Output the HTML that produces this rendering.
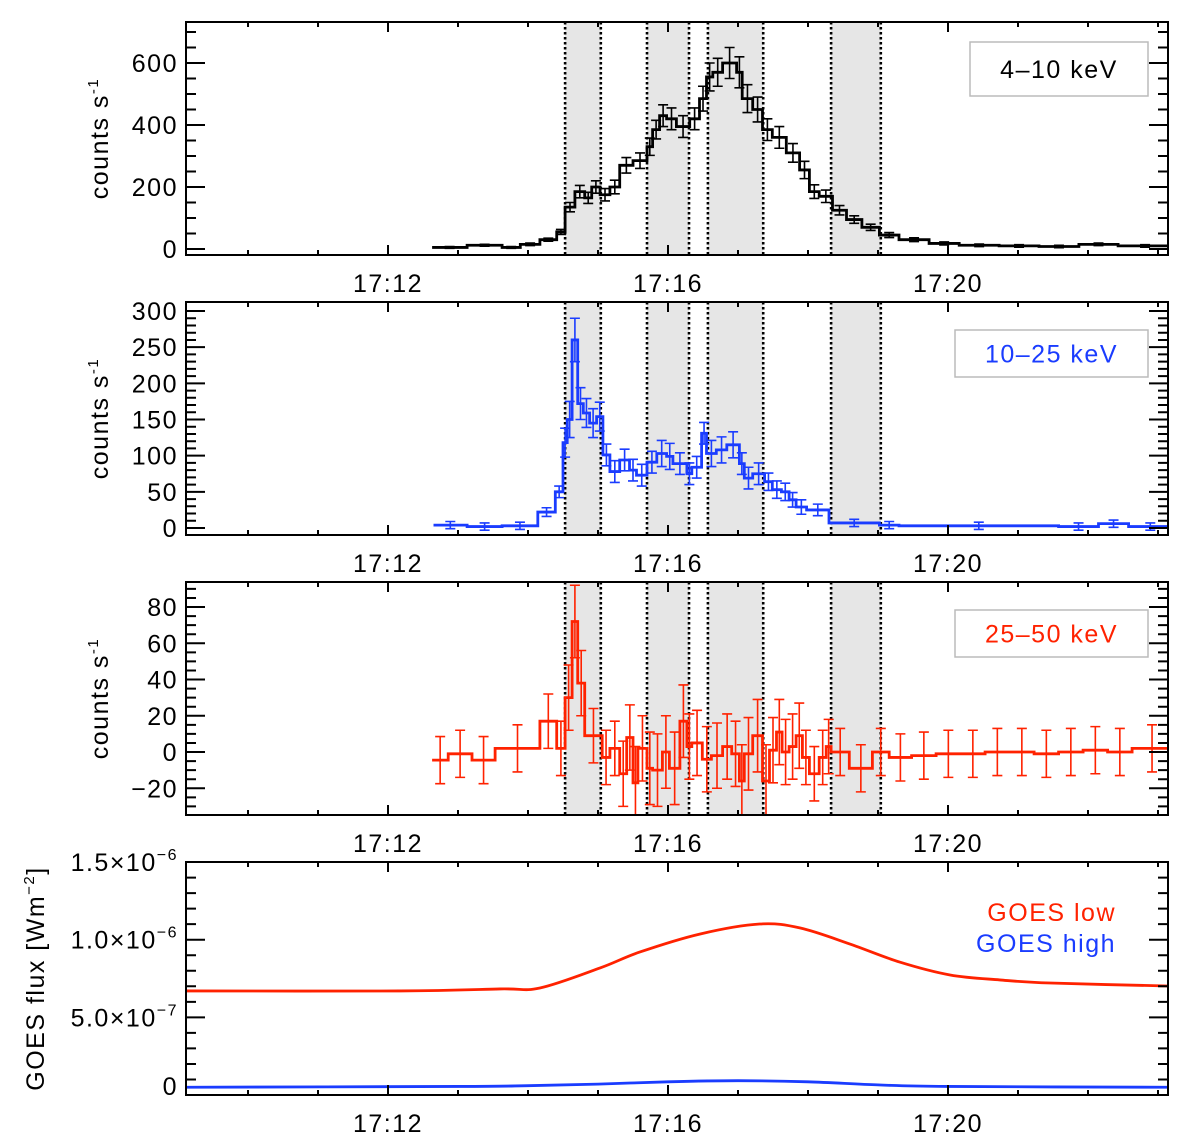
<!DOCTYPE html>
<html><head><meta charset="utf-8"><style>
html,body{margin:0;padding:0;background:#fff;}
svg{display:block;font-family:"Liberation Sans",sans-serif;}
svg text{letter-spacing:1.5px;}
</style></head><body>
<svg id="chart" width="1200" height="1144" viewBox="0 0 1200 1144" xmlns="http://www.w3.org/2000/svg"></svg>
<script>
// ---- data (time in minutes after 17:00) ----
const t1 = [12.63,13.13,13.63,13.89,14.17,14.41,14.53,14.67,14.81,14.91,15.03,15.17,15.31,15.50,15.70,15.78,15.88,15.98,16.12,16.31,16.45,16.55,16.64,16.78,16.98,17.06,17.21,17.35,17.49,17.69,17.88,18.02,18.16,18.35,18.55,18.77,19.02,19.30,19.73,20.16,20.73,21.30,21.87,22.43];
const v1 = [5,12,5,15,30,55,135,185,165,200,175,200,270,285,330,385,430,420,395,420,485,555,570,600,570,485,450,385,360,310,255,185,170,125,95,70,45,30,18,12,10,8,15,10];
const e1 = [3,3,3,4,5,8,15,20,18,20,20,22,25,25,28,30,35,35,35,35,40,45,45,50,50,45,40,35,35,30,28,22,20,15,12,10,8,6,5,4,4,4,4,4];
const t2 = [12.65,13.13,13.63,14.14,14.39,14.50,14.56,14.63,14.71,14.79,14.88,14.98,15.07,15.17,15.31,15.45,15.55,15.70,15.84,15.98,16.07,16.27,16.34,16.48,16.55,16.69,16.84,17.02,17.09,17.21,17.38,17.49,17.62,17.73,17.83,17.98,18.30,19.02,19.30,21.58,22.15,22.58];
const v2 = [4,2,3,22,50,118,150,260,172,159,145,154,101,78,94,80,73,91,103,99,89,75,84,131,103,108,115,89,69,75,64,53,50,39,29,25,7,4,3,2,6,2];
const e2 = [5,5,5,6,8,20,25,30,22,20,20,20,15,15,15,15,15,15,18,18,15,15,15,15,18,18,18,15,15,15,12,12,12,10,10,8,5,5,5,5,5,5];
const t3 = [12.63,12.86,13.20,13.53,14.17,14.41,14.53,14.63,14.71,14.81,15.06,15.17,15.31,15.41,15.50,15.57,15.70,15.78,15.92,16.02,16.17,16.27,16.34,16.49,16.62,16.78,16.91,17.02,17.09,17.21,17.35,17.45,17.55,17.63,17.73,17.83,17.92,18.02,18.16,18.26,18.33,18.59,18.92,19.16,19.48,19.83,20.18,20.53,20.88,21.23,21.58,21.93,22.28,22.63];
const v3 = [-4.5,-1,-4.5,2,17,2,30,72,38,9,-3,2,-12,8,-17,2,-9,-10,0,-9,17,3,5,-4,-2,3,-1,-16,-1,9,-16,1,11,0,3,9,-3,-12,-3,3,0,-9,0,-3,-2,-1,-1,0,0,-1,0,1,0,2];
const e3 = [13,13,13,13,15,15,18,20,18,15,15,15,18,18,20,18,20,20,20,20,20,18,18,18,18,18,18,20,20,20,20,18,18,18,18,18,15,15,15,15,13,13,13,13,13,13,13,13,13,13,13,13,13,13];
const tEnd = 23.2;
const tg = [9.114,12.17,13.6,14.17,15.03,15.6,16.46,17.31,17.89,18.6,19.31,20.03,20.74,21.46,23.14];
const goesLow = [0.670,0.670,0.683,0.689,0.818,0.921,1.037,1.101,1.075,0.972,0.856,0.773,0.741,0.721,0.702];
const tgh = [9.114,13,14,15,16,17,18,19,20,23.14];
const goesHigh = [0.05,0.055,0.06,0.07,0.085,0.092,0.085,0.065,0.055,0.05];
const shadeStart = [14.53,15.70,16.57,18.33];
const shadeEnd = [15.04,16.30,17.36,19.04];
const xTickLabels = ["17:12","17:16","17:20"];
const xTickVals = [12,16,20];

const NS="http://www.w3.org/2000/svg";
const svg=document.getElementById('chart');
const X0=186,X1=1168,TMIN=9.114,TMAX=23.143;
function xs(t){return X0+(t-TMIN)*(X1-X0)/(TMAX-TMIN);}
function mk(tag,attrs,parent){const e=document.createElementNS(NS,tag);for(const k in attrs)e.setAttribute(k,attrs[k]);(parent||svg).appendChild(e);return e;}

const panels=[
 {name:'panel-4-10kev',top:22,bot:255,zero:249,k:0.31,maj:200,min:50,vmin:0,vmax:700,labels:[0,200,400,600],t:t1,v:v1,e:e1,color:'#000',legend:'4\u201310 keV',lb:[970,42,178,54]},
 {name:'panel-10-25kev',top:302,bot:535,zero:528,k:0.7233,maj:50,min:10,vmin:0,vmax:300,labels:[0,50,100,150,200,250,300],t:t2,v:v2,e:e2,color:'#1a3cff',legend:'10\u201325 keV',lb:[955,330,193,47]},
 {name:'panel-25-50kev',top:582,bot:815,zero:752,k:1.8125,maj:20,min:5,vmin:-30,vmax:90,labels:[-20,0,20,40,60,80],t:t3,v:v3,e:e3,color:'#ff2200',legend:'25\u201350 keV',lb:[955,610,193,47]}
];

function clip(id,p){const c=mk('clipPath',{id:id});mk('rect',{x:X0,y:p.top,width:X1-X0,height:p.bot-p.top},c);}

function xAxis(p,g){
  for(let m=10;m<=23;m++){const x=xs(m);const major=xTickVals.includes(m);const L=major?10:5;
    const tk=mk('line',{x1:x,y1:p.bot,x2:x,y2:p.bot-L,stroke:'#000','stroke-width':2},g);
    
    
    const tk2=mk('line',{x1:x,y1:p.top,x2:x,y2:p.top+L,stroke:'#000','stroke-width':2},g);
    
    }
  xTickVals.forEach((v,i)=>{const tx=mk('text',{x:xs(v),y:p.bot+37,'font-size':25,'text-anchor':'middle'},g);tx.textContent=xTickLabels[i];
    
    });
}

panels.forEach((p,pi)=>{
  const g=mk('g',{});
  
  
  const cid='c'+pi;clip(cid,p);
  const ys=v=>p.zero-v*p.k;
  shadeStart.forEach((s,i)=>{const r=mk('rect',{x:xs(s),y:p.top,width:xs(shadeEnd[i])-xs(s),height:p.bot-p.top,fill:'#e6e6e6'},g);
    
    });
  shadeStart.concat(shadeEnd).forEach(s=>{const l=mk('line',{x1:xs(s),y1:p.top,x2:xs(s),y2:p.bot,stroke:'#000','stroke-width':2.6,'stroke-dasharray':'2.5,2.5'},g);
    
    });
  const eg=mk('g',{'clip-path':'url(#'+cid+')',stroke:p.color,'stroke-width':1.6},g);
  
  
  p.t.forEach((t,i)=>{const t2n=i+1<p.t.length?p.t[i+1]:tEnd;const xc=(xs(t)+xs(t2n))/2;
    const a=ys(p.v[i]+p.e[i]),b=ys(p.v[i]-p.e[i]);
    mk('path',{d:`M${xc},${a}V${b}M${xc-5},${a}H${xc+5}M${xc-5},${b}H${xc+5}`,fill:'none'},eg);});
  let d='';p.t.forEach((t,i)=>{const t2n=i+1<p.t.length?p.t[i+1]:tEnd;const y=ys(p.v[i]);
    d+=(i===0?`M${xs(t)},${y}`:`V${y}`)+`H${xs(t2n)}`;});
  const ln=mk('path',{d:d,fill:'none',stroke:p.color,'stroke-width':2.8,'clip-path':'url(#'+cid+')'},g);
  
  
  const fr=mk('rect',{x:X0,y:p.top,width:X1-X0,height:p.bot-p.top,fill:'none',stroke:'#000','stroke-width':2},g);
  
  
  for(let v=Math.ceil(p.vmin/p.min)*p.min;v<=p.vmax;v+=p.min){const y=ys(v);if(y<p.top||y>p.bot)continue;
    const L=(v%p.maj===0)?19:10;
    const tk=mk('path',{d:`M${X0},${y}H${X0+L}M${X1},${y}H${X1-L}`,stroke:'#000','stroke-width':2},g);
    
    }
  p.labels.forEach(v=>{const tx=mk('text',{x:X0-8,y:ys(v)+9,'font-size':25,'text-anchor':'end'},g);tx.textContent=(v<0?'\u2212'+(-v):v);
    
    });
  xAxis(p,g);
  const yt=mk('text',{transform:`translate(108,${(p.top+p.bot)/2}) rotate(-90)`,'font-size':25,'text-anchor':'middle'},g);
  yt.innerHTML='counts  s<tspan font-size="15" dy="-10">-1</tspan>';
  
  
  const lb=mk('rect',{x:p.lb[0],y:p.lb[1],width:p.lb[2],height:p.lb[3],fill:'#fff',stroke:'#bbb','stroke-width':1.5},g);
  
  
  const lt=mk('text',{x:p.lb[0]+p.lb[2]/2,y:p.lb[1]+p.lb[3]/2+9,'font-size':25,'text-anchor':'middle',fill:p.color},g);
  lt.textContent=p.legend;
  
  
});

(function(){
  const p={top:862,bot:1095};const k=155.3;const ys=v=>p.bot-v*k;
  const g=mk('g',{});
  
  
  function smooth(ts,vs){const pts=ts.map((t,i)=>[xs(t),ys(vs[i])]);let d=`M${pts[0][0]},${pts[0][1]}`;
    for(let i=0;i<pts.length-1;i++){const p0=pts[Math.max(0,i-1)],p1=pts[i],p2=pts[i+1],p3=pts[Math.min(pts.length-1,i+2)];
      const c1=[p1[0]+(p2[0]-p0[0])/6,p1[1]+(p2[1]-p0[1])/6],c2=[p2[0]-(p3[0]-p1[0])/6,p2[1]-(p3[1]-p1[1])/6];
      d+=`C${c1[0]},${c1[1]} ${c2[0]},${c2[1]} ${p2[0]},${p2[1]}`;}return d;}
  const lo=mk('path',{d:smooth(tg,goesLow),fill:'none',stroke:'#ff2200','stroke-width':2.8},g);
  
  
  const hi=mk('path',{d:smooth(tgh,goesHigh),fill:'none',stroke:'#1a3cff','stroke-width':2.8},g);
  
  
  const fr=mk('rect',{x:X0,y:p.top,width:X1-X0,height:p.bot-p.top,fill:'none',stroke:'#000','stroke-width':2},g);
  
  
  for(let i=0;i<=15;i++){const y=ys(i/10);const L=(i%5===0)?19:10;
    const tk=mk('path',{d:`M${X0},${y}H${X0+L}M${X1},${y}H${X1-L}`,stroke:'#000','stroke-width':2},g);
    
    }
  const labs=[['0',0],['5.0\u00d710','-7',0.5],['1.0\u00d710','-6',1.0],['1.5\u00d710','-6',1.5]];
  labs.forEach(l=>{let tx;
    if(l.length===2){tx=mk('text',{x:X0-8,y:ys(0)-0,'font-size':25,'text-anchor':'end'},g);tx.textContent='0';}
    else{tx=mk('text',{x:X0-8,y:ys(l[2])+9,'font-size':25,'text-anchor':'end'},g);
      tx.innerHTML=l[0]+'<tspan font-size="16" dy="-11">\u2212'+l[1].slice(1)+'</tspan>';}
    
    });
  xAxis(p,g);
  const yt=mk('text',{transform:`translate(44,${(p.top+p.bot)/2}) rotate(-90)`,'font-size':25,'text-anchor':'middle'},g);
  yt.innerHTML='GOES  flux  [Wm<tspan font-size="15" dy="-10">\u22122</tspan><tspan dy="10">]</tspan>';
  
  
  const a=mk('text',{x:1116,y:921,'font-size':25,'text-anchor':'end',fill:'#ff2200'},g);a.textContent='GOES  low';
  
  
  const b=mk('text',{x:1116,y:952,'font-size':25,'text-anchor':'end',fill:'#1a3cff'},g);b.textContent='GOES  high';
  
  
})();
</script>
</body></html>
